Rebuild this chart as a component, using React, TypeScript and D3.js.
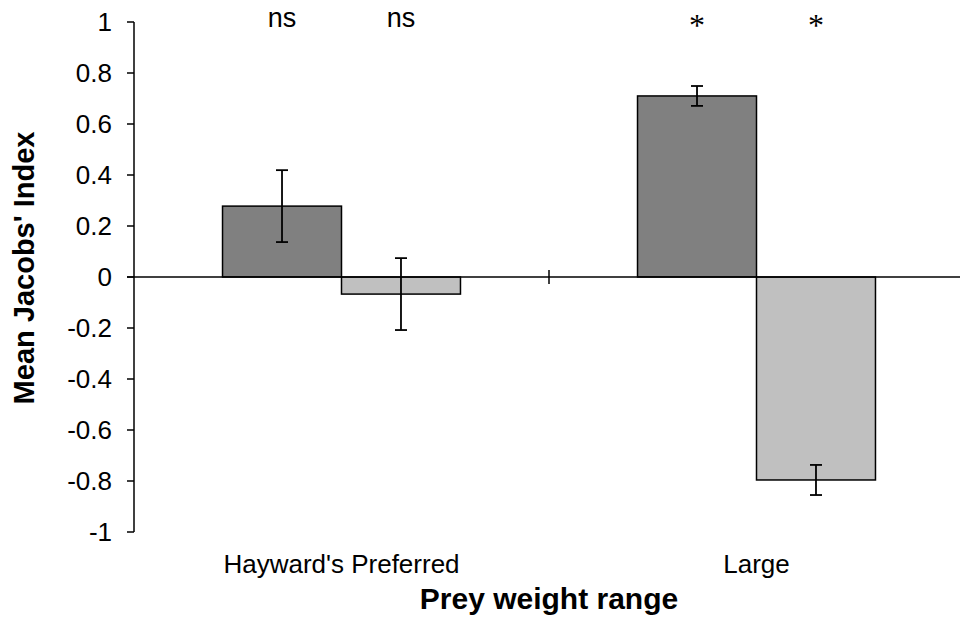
import React, { useEffect, useRef } from "react";
import * as d3 from "d3";

const categories = ["Hayward's Preferred", "Large"];
const seriesNames = ["dark", "light"];
const darkValues = [0.278, 0.71];
const darkErrors = [0.141, 0.039];
const lightValues = [-0.067, -0.796];
const lightErrors = [0.141, 0.059];
const darkSig = ["ns", "*"];
const lightSig = ["ns", "*"];
const yTicks = [1, 0.8, 0.6, 0.4, 0.2, 0, -0.2, -0.4, -0.6, -0.8, -1];

const W = 960;
const H = 617;

const App = () => {
  const svgRef = useRef<SVGSVGElement | null>(null);

  useEffect(() => {
    const svg = d3.select(svgRef.current);
    svg.selectAll("*").remove();

    const font = "'Liberation Sans', Arial, sans-serif";

    const x = d3.scaleBand().domain(categories).range([134, 964]);
    const xInner = d3
      .scaleBand()
      .domain(seriesNames)
      .range([0, x.bandwidth()])
      .paddingInner(0)
      .paddingOuter(0.744);
    const y = d3.scaleLinear().domain([-1, 1]).range([532, 22]);

    const rows = categories.flatMap((c, i) => [
      { cat: c, s: "dark", v: darkValues[i], e: darkErrors[i], sig: darkSig[i], fill: "#808080" },
      { cat: c, s: "light", v: lightValues[i], e: lightErrors[i], sig: lightSig[i], fill: "#c0c0c0" },
    ]);

    // bars
    svg
      .append("g")
      .selectAll("rect")
      .data(rows)
      .join("rect")
      .attr("x", (d) => x(d.cat)! + xInner(d.s)!)
      .attr("width", xInner.bandwidth())
      .attr("y", (d) => y(Math.max(0, d.v)))
      .attr("height", (d) => Math.abs(y(d.v) - y(0)))
      .attr("fill", (d) => d.fill)
      .attr("stroke", "#000")
      .attr("stroke-width", 1.5);

    // y axis
    const yAxis = svg.append("g").attr("transform", `translate(134,0)`);
    yAxis
      .append("line")
      .attr("y1", y(1))
      .attr("y2", y(-1))
      .attr("stroke", "#000")
      .attr("stroke-width", 1.5);
    yAxis
      .selectAll("line.tick")
      .data(yTicks)
      .join("line")
      .attr("class", "tick")
      .attr("x1", -7)
      .attr("x2", 0)
      .attr("y1", (d) => y(d))
      .attr("y2", (d) => y(d))
      .attr("stroke", "#000")
      .attr("stroke-width", 1.5);
    yAxis
      .selectAll("text")
      .data(yTicks)
      .join("text")
      .attr("x", -22)
      .attr("y", (d) => y(d))
      .attr("dy", "0.36em")
      .attr("text-anchor", "end")
      .style("font-family", font)
      .style("font-size", "26px")
      .text((d) => (d === 0 ? "0" : String(+d.toFixed(1))));

    // category axis at zero
    const xAxis = svg.append("g");
    xAxis
      .append("line")
      .attr("x1", 127)
      .attr("x2", W)
      .attr("y1", y(0))
      .attr("y2", y(0))
      .attr("stroke", "#000")
      .attr("stroke-width", 1.5);
    xAxis
      .selectAll("line.ctick")
      .data(categories.slice(1))
      .join("line")
      .attr("class", "ctick")
      .attr("x1", (d) => x(d)!)
      .attr("x2", (d) => x(d)!)
      .attr("y1", y(0) - 7)
      .attr("y2", y(0) + 7)
      .attr("stroke", "#000")
      .attr("stroke-width", 1.5);

    // error bars
    const err = svg.append("g").attr("stroke", "#000").attr("stroke-width", 1.8);
    rows.forEach((d) => {
      const cx = x(d.cat)! + xInner(d.s)! + xInner.bandwidth() / 2;
      err.append("line").attr("x1", cx).attr("x2", cx).attr("y1", y(d.v + d.e)).attr("y2", y(d.v - d.e));
      err.append("line").attr("x1", cx - 6).attr("x2", cx + 6).attr("y1", y(d.v + d.e)).attr("y2", y(d.v + d.e));
      err.append("line").attr("x1", cx - 6).attr("x2", cx + 6).attr("y1", y(d.v - d.e)).attr("y2", y(d.v - d.e));
    });

    // significance labels
    svg
      .append("g")
      .selectAll("text")
      .data(rows)
      .join("text")
      .attr("x", (d) => x(d.cat)! + xInner(d.s)! + xInner.bandwidth() / 2)
      .attr("y", (d) => (d.sig === "*" ? 36 : 27))
      .attr("text-anchor", "middle")
      .style("font-family", (d) => (d.sig === "*" ? "'Liberation Serif', 'Times New Roman', serif" : font))
      .style("font-size", (d) => (d.sig === "*" ? "32px" : "27px"))
      .text((d) => d.sig);

    // category labels
    svg
      .append("g")
      .selectAll("text")
      .data(categories)
      .join("text")
      .attr("x", (d) => x(d)! + x.bandwidth() / 2)
      .attr("y", 573)
      .attr("text-anchor", "middle")
      .style("font-family", font)
      .style("font-size", "26px")
      .text((d) => d);

    // axis titles
    svg
      .append("text")
      .attr("x", 549)
      .attr("y", 609)
      .attr("text-anchor", "middle")
      .style("font-family", font)
      .style("font-size", "30px")
      .style("font-weight", "bold")
      .text("Prey weight range");

    svg
      .append("text")
      .attr("transform", `translate(34,268) rotate(-90)`)
      .attr("text-anchor", "middle")
      .style("font-family", font)
      .style("font-size", "29px")
      .style("font-weight", "bold")
      .text("Mean Jacobs' Index");
  }, []);

  return (
    <svg
      ref={svgRef}
      width={W}
      height={H}
      style={{ position: "absolute", left: 0, top: 0, background: "#fff" }}
    />
  );
};

export default App;
